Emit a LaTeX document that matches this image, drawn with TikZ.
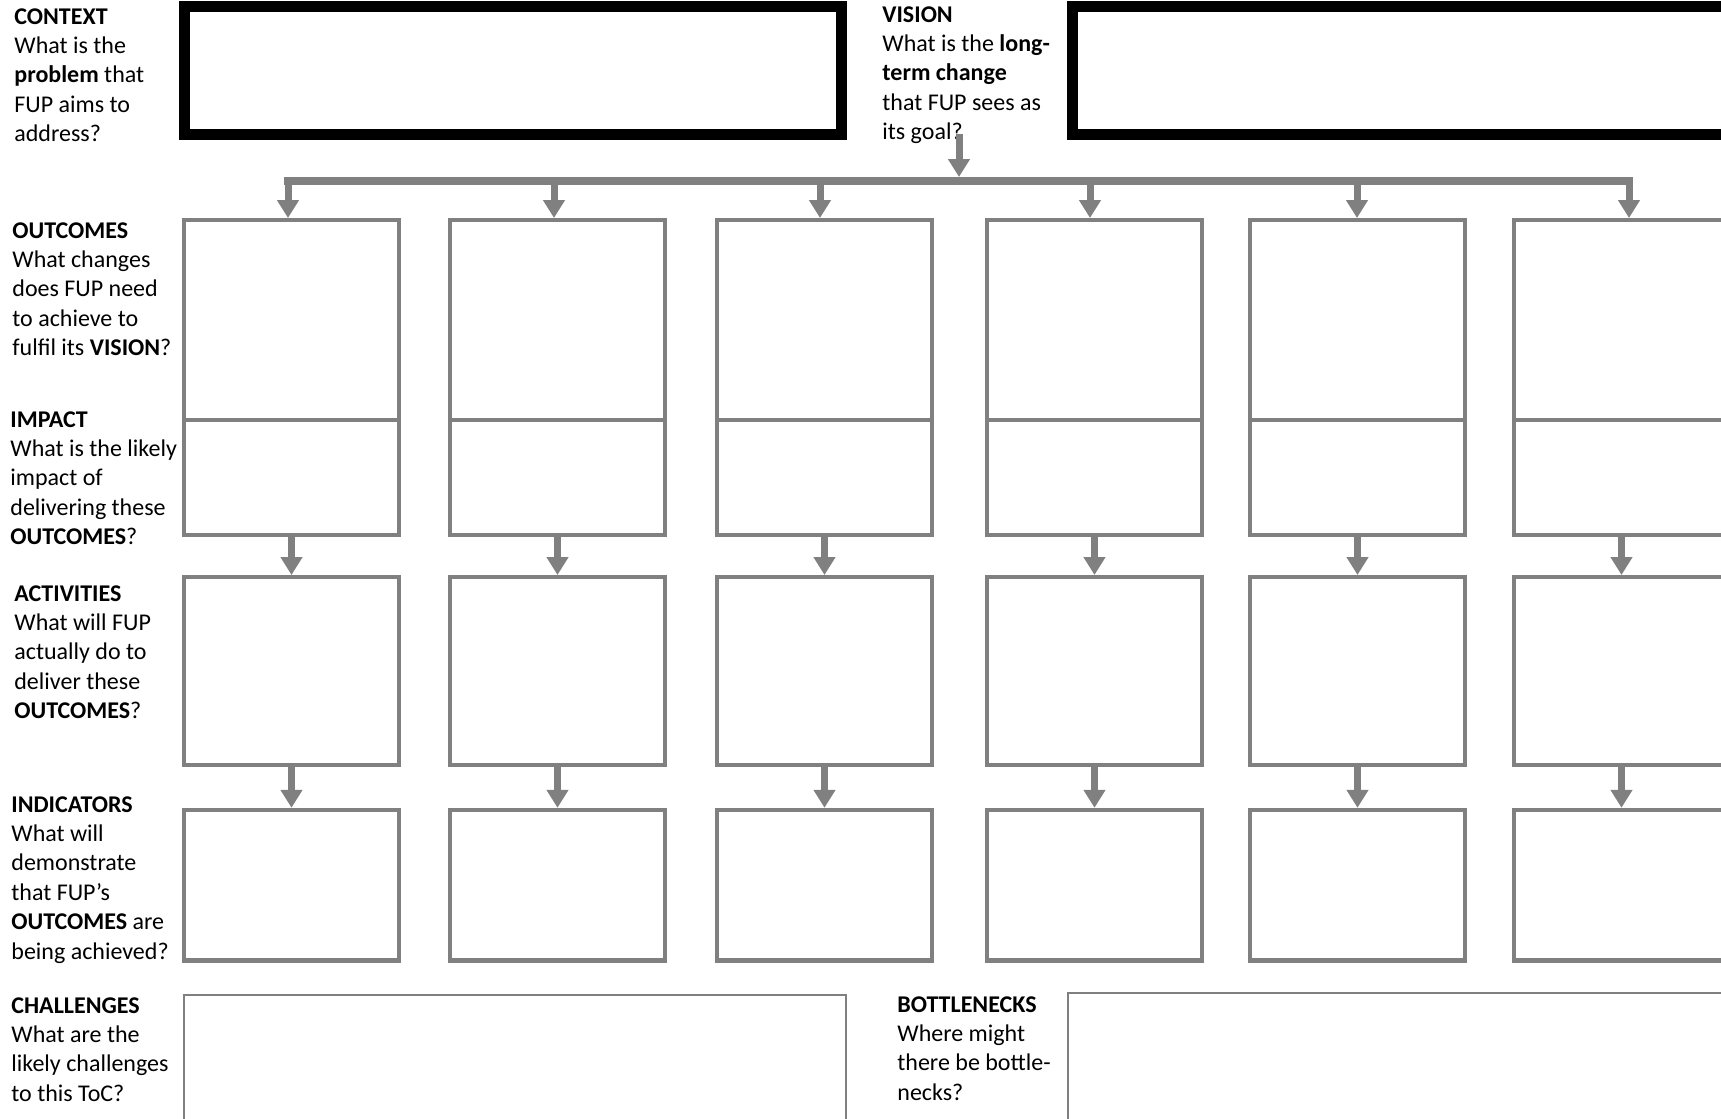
\documentclass[tikz,border=0pt]{standalone}
\usepackage{fontspec}
\setmainfont{Carlito}
\usepackage{xcolor}
\usetikzlibrary{arrows.meta, positioning}
\definecolor{tocgray}{RGB}{128,128,128}

\begin{document}
\begin{tikzpicture}[x=0.5pt, y=-0.5pt, >={Triangle[width=10.5pt, length=9pt]},
    lbl/.style={anchor=base west, align=left, inner sep=0pt,
        font=\fontsize{12pt}{14.7pt}\selectfont},
    bigbox/.style={draw=black, line width=5.5pt, anchor=north west,
        inner sep=0pt, minimum height=64pt},
    cell/.style={draw=tocgray, line width=2.2pt, anchor=north west,
        inner sep=0pt, minimum width=107.3pt},
    thinbox/.style={draw=tocgray, line width=1pt, anchor=north west,
        inner sep=0pt, minimum height=100pt},
    flow/.style={->, color=tocgray, line width=3.5pt}]
    \useasboundingbox (0,0) rectangle (1721,1119);

    % 1. Bối cảnh và tầm nhìn (base = dòng cuối)
    \node[lbl] (ctxlbl) at (14,141.6) {\textbf{CONTEXT}\\What is the\\\textbf{problem} that\\FUP aims to\\address?};
    \node[bigbox, minimum width=328.5pt] (ctxbox) at (179,1) {};
    \node[lbl] (vislbl) at (882,139.6) {\textbf{VISION}\\What is the \textbf{long-}\\\textbf{term change}\\that FUP sees as\\its goal?};
    \node[bigbox, minimum width=400pt] (visbox) at (1067,1) {};

    % 2. Thanh ngang phân nhánh
    \coordinate (busL) at (284,181);
    \coordinate (busR) at (1633,181);
    \coordinate (vtail) at (959,134);
    \draw[tocgray, line width=4pt] (busL) -- (busR);
    \draw[flow, shorten >=2pt] (vtail) -- (vtail |- busL);

    % 3. Nhãn các hàng
    \node[lbl] (outlbl) at (12,355.6) {\textbf{OUTCOMES}\\What changes\\does FUP need\\to achieve to\\fulfil its \textbf{VISION}?};
    \node[lbl] (implbl) at (10,544.6) {\textbf{IMPACT}\\What is the likely\\impact of\\delivering these\\\textbf{OUTCOMES}?};
    \node[lbl] (actlbl) at (14,718.6) {\textbf{ACTIVITIES}\\What will FUP\\actually do to\\deliver these\\\textbf{OUTCOMES}?};
    \node[lbl] (indlbl) at (11,959) {\textbf{INDICATORS}\\What will\\demonstrate\\that FUP’s\\\textbf{OUTCOMES} are\\being achieved?};

    % 4. Sáu cột ô và mũi tên
    \foreach \i/\xl/\xd in {1/182/288, 2/448/554, 3/715/820, 4/985/1090, 5/1248/1357, 6/1512/1629} {
        \node[cell, minimum height=99.9pt] (out\i) at (\xl,218) {};
        \node[cell, minimum height=57.5pt, below=-2.2pt of out\i] (imp\i) {};
        \node[cell, minimum height=93.8pt, below=18.9pt of imp\i] (act\i) {};
        \node[cell, minimum height=75.3pt, below=20.4pt of act\i] (ind\i) {};
        \coordinate (drop\i) at (\xd,181);
        \draw[flow] (drop\i) -- (drop\i |- out\i.north);
        \draw[flow] (imp\i) -- (act\i);
        \draw[flow] (act\i) -- (ind\i);
    }

    % 5. Thách thức và điểm nghẽn
    \node[lbl] (chalbl) at (11,1101.2) {\textbf{CHALLENGES}\\What are the\\likely challenges\\to this ToC?};
    \node[thinbox, minimum width=331pt] (chabox) at (183,994) {};
    \node[lbl] (botlbl) at (897,1100.2) {\textbf{BOTTLENECKS}\\Where might\\there be bottle-\\necks?};
    \node[thinbox, minimum width=400pt] (botbox) at (1067,992) {};
\end{tikzpicture}
\end{document}
